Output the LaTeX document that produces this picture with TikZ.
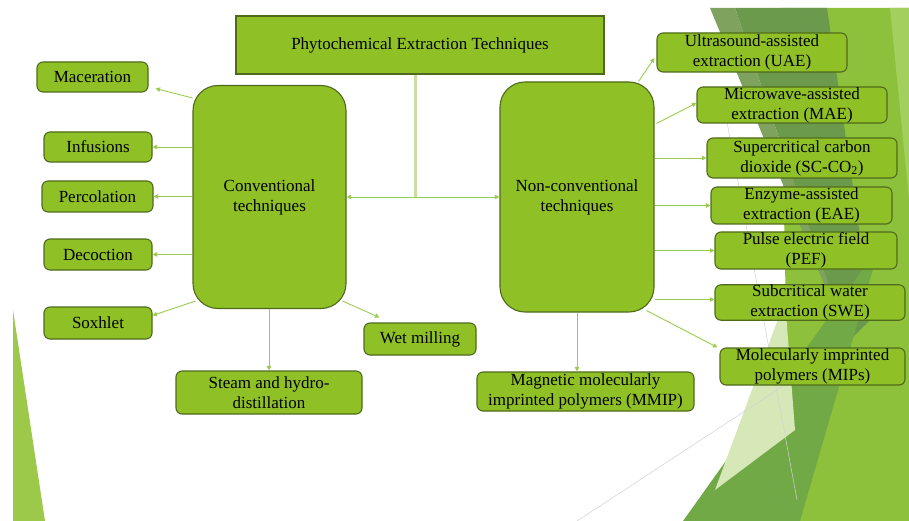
\documentclass[tikz,border=0pt]{standalone}
\usepackage{fontspec}
\setmainfont{Liberation Serif}
\usetikzlibrary{arrows.meta,calc}
\definecolor{boxfill}{HTML}{8FC026}
\definecolor{boxline}{HTML}{4F6A1C}
\definecolor{arrc}{HTML}{9CCB52}
\definecolor{stem}{HTML}{C9DFA2}
\definecolor{bgbright}{HTML}{8DC03B}
\definecolor{bgdark}{HTML}{6B9A4C}
\definecolor{bggrey}{HTML}{7FA35E}
\definecolor{bgmed}{HTML}{70A946}
\definecolor{bgpale}{HTML}{D6E8B8}
\definecolor{bgleft}{HTML}{9CC94A}
\definecolor{bglight}{HTML}{A3CF5E}
\begin{document}
\begin{tikzpicture}[x=1pt,y=-1pt,
  gtip/.tip={Triangle[length=4.5pt,width=4.5pt]},
  box/.style={draw=boxline, fill=boxfill, line width=1.1pt, rounded corners=6pt,
    align=center, inner sep=0pt, font=\fontsize{17}{20}\selectfont, text=black},
  big/.style={box, rounded corners=25pt},
  arr/.style={draw=arrc, line width=0.9pt, -gtip}
]
\useasboundingbox (0,0) rectangle (909,521);
% background decoration
\fill[bgleft] (13,310) -- (13,521) -- (45,521) -- cycle;
\fill[bgbright] (780,8) -- (909,8) -- (909,521) -- (790,521) -- cycle;
\fill[bglight] (890,8) -- (909,8) -- (909,200) -- cycle;
\fill[bggrey] (710,8) -- (735,8) -- (848,342) -- cycle;
\fill[bgdark] (735,8) -- (827,8) -- (872,318) -- (848,342) -- cycle;
\fill[bgmed] (683,521) -- (800,521) -- (880,245) -- cycle;
\fill[bgpale] (785,300) -- (715,490) -- (795,430) -- cycle;
\draw[black!18, line width=0.5pt] (722,95) -- (797,500);
\draw[black!18, line width=0.5pt] (577,521) -- (800,375);
% nodes
\node[box, rounded corners=0pt, minimum width=368pt, minimum height=58pt] (title) at (420,45) {Phytochemical Extraction Techniques};
\node[big, minimum width=153pt, minimum height=223pt] (conv) at (269.5,197) {Conventional\\techniques};
\node[big, minimum width=154pt, minimum height=230pt] (nonc) at (577,197) {Non-conventional\\techniques};
\node[box, minimum width=111pt, minimum height=30pt] (mac) at (92.5,77) {Maceration};
\node[box, minimum width=108pt, minimum height=30pt] (inf) at (98,147) {Infusions};
\node[box, minimum width=111pt, minimum height=31pt] (perc) at (97.5,196.5) {Percolation};
\node[box, minimum width=108pt, minimum height=31pt] (dec) at (98,254.5) {Decoction};
\node[box, minimum width=108pt, minimum height=32pt] (sox) at (98,323) {Soxhlet};
\node[box, minimum width=186pt, minimum height=43pt] (steam) at (269,392.5) {Steam and hydro-\\distillation};
\node[box, minimum width=112pt, minimum height=32pt] (wet) at (420,339) {Wet milling};
\node[box, minimum width=217pt, minimum height=39pt] (mmip) at (585.5,391.5) {Magnetic molecularly\\imprinted polymers (MMIP)};
\node[box, minimum width=190pt, minimum height=39pt] (uae) at (752,52.5) {Ultrasound-assisted\\extraction (UAE)};
\node[box, minimum width=190pt, minimum height=36pt] (mae) at (792,105) {Microwave-assisted\\extraction (MAE)};
\node[box, minimum width=190pt, minimum height=40pt] (sc) at (802,158) {Supercritical carbon\\dioxide (SC-CO\textsubscript{2})};
\node[box, minimum width=181pt, minimum height=37pt] (eae) at (801.5,205.5) {Enzyme-assisted\\extraction (EAE)};
\node[box, minimum width=182pt, minimum height=37pt] (pef) at (806,250.5) {Pulse electric field\\(PEF)};
\node[box, minimum width=190pt, minimum height=35pt] (swe) at (810,302.5) {Subcritical water\\extraction (SWE)};
\node[box, minimum width=185pt, minimum height=37pt] (mips) at (812.5,366.5) {Molecularly imprinted\\polymers (MIPs)};
% connectors
\coordinate (j) at (415,197);
\draw[stem, line width=3pt] (title.south -| j) -- (j);
\draw[arr, gtip-gtip] (conv) -- (nonc);
\draw[arr] ($(conv.north west)+(0,13)$) -- ($(mac.south east)+(7,-4)$);
\draw[arr] (conv.west |- inf.east) -- (inf.east);
\draw[arr] (conv.west |- perc.east) -- (perc.east);
\draw[arr] (conv.west |- dec.east) -- (dec.east);
\draw[arr] ($(conv.south west)+(3,-8)$) -- ($(sox.north east)+(0,9)$);
\draw[arr] (conv.south -| steam.north) -- (steam.north);
\draw[arr] ($(conv.south east)+(-4,-8)$) -- ($(wet.north west)+(16,-5)$);
\draw[arr] ($(nonc.north east)+(-16,0)$) -- ($(uae.west)+(-2,5.5)$);
\draw[arr] ($(nonc.north east)+(2,42)$) -- ($(mae.west)+(0,-2)$);
\draw[arr] (nonc.east |- sc.west) -- (sc.west);
\draw[arr] (nonc.east |- eae.west) -- (eae.west);
\draw[arr] (nonc.east |- pef.west) -- (pef.west);
\draw[arr] ($(nonc.east |- swe.west)+(0,-3)$) -- ($(swe.west)+(0,-3)$);
\draw[arr] ($(nonc.south east)+(-8,-2)$) -- ($(mips.north west)+(-2,0)$);
\draw[arr] (nonc.south) -- (nonc.south |- mmip.north);
\end{tikzpicture}
\end{document}
